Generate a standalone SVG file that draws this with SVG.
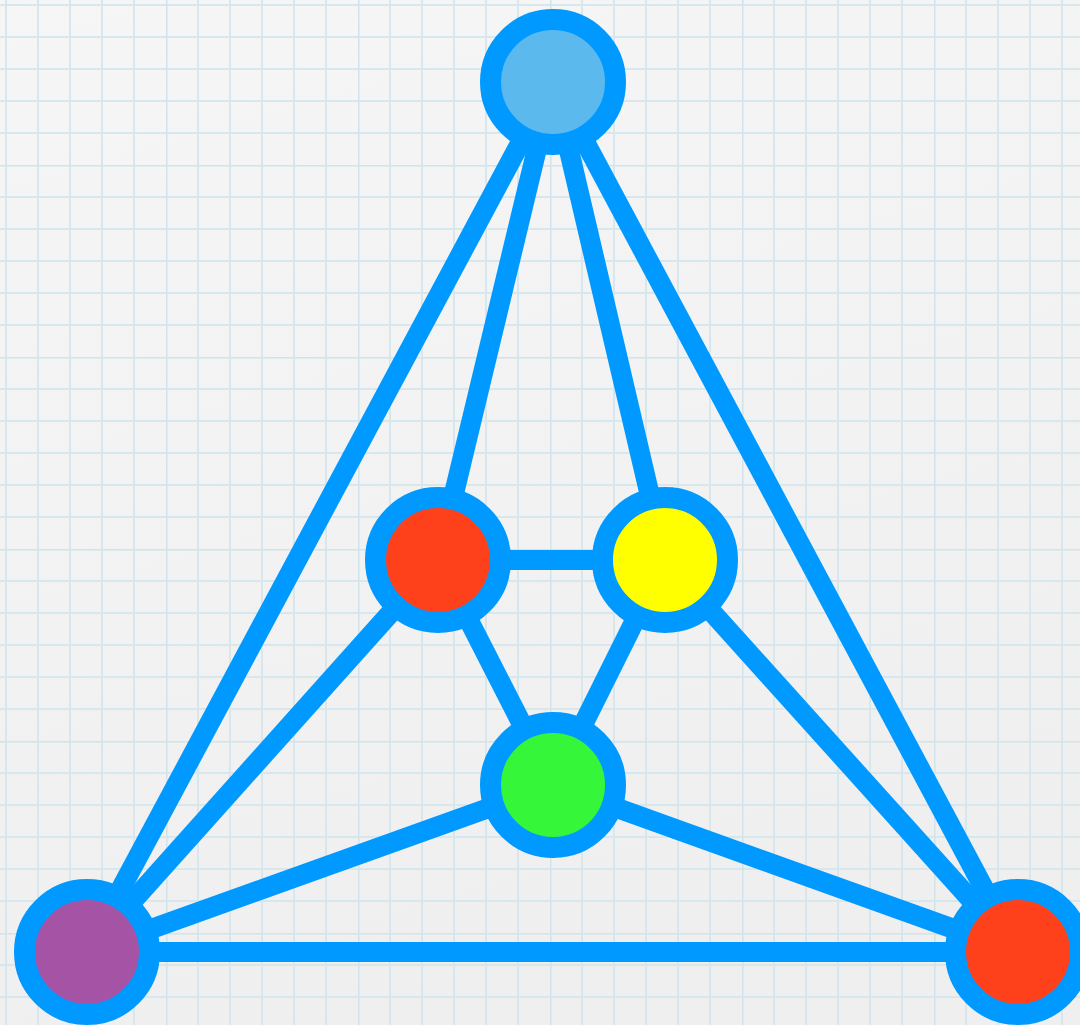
<svg xmlns="http://www.w3.org/2000/svg" width="1080" height="1025" viewBox="0 0 1080 1025">
<style>
.edge{stroke:#0099ff;stroke-width:20;fill:none}
.node{stroke:#0099ff;stroke-width:21}
</style>
<defs>
<linearGradient id="bg" x1="0" y1="0" x2="0.3" y2="1">
<stop offset="0" stop-color="#f6f6f6"/>
<stop offset="1" stop-color="#efefef"/>
</linearGradient>
<pattern id="grid" patternUnits="userSpaceOnUse" x="-26" y="-27" width="192" height="192">
<path d="M32 0V192M64 0V192M96 0V192M128 0V192M160 0V192M0 32H192M0 64H192M0 96H192M0 128H192M0 160H192" stroke="#d6e8ee" stroke-width="2" fill="none"/>
<path d="M0 0V192M0 0H192" stroke="#d0e4ec" stroke-width="3" fill="none"/>
</pattern>
</defs>
<rect width="1080" height="1025" fill="url(#bg)"/>
<rect width="1080" height="1025" fill="url(#grid)"/>
<g id="connectors">
<line class="edge" x1="553" y1="82" x2="87" y2="952"/>
<line class="edge" x1="553" y1="82" x2="438" y2="560"/>
<line class="edge" x1="553" y1="82" x2="665" y2="560"/>
<line class="edge" x1="553" y1="82" x2="1018" y2="952"/>
<line class="edge" x1="438" y1="560" x2="665" y2="560"/>
<line class="edge" x1="438" y1="560" x2="553" y2="785"/>
<line class="edge" x1="665" y1="560" x2="553" y2="785"/>
<line class="edge" x1="438" y1="560" x2="87" y2="952"/>
<line class="edge" x1="665" y1="560" x2="1018" y2="952"/>
<line class="edge" x1="553" y1="785" x2="87" y2="952"/>
<line class="edge" x1="553" y1="785" x2="1018" y2="952"/>
<line class="edge" x1="87" y1="952" x2="1018" y2="952"/>
</g>
<g id="node-top"><circle class="node" cx="553" cy="82" r="62.5" fill="#5bb9ee"/></g>
<g id="node-red-mid"><circle class="node" cx="438" cy="560" r="62.5" fill="#fe401b"/></g>
<g id="node-yellow"><circle class="node" cx="665" cy="560" r="62.5" fill="#ffff00"/></g>
<g id="node-green"><circle class="node" cx="553" cy="785" r="62.5" fill="#36f63a"/></g>
<g id="node-purple"><circle class="node" cx="87" cy="952" r="62.5" fill="#a553a5"/></g>
<g id="node-red-br"><circle class="node" cx="1018" cy="952" r="62.5" fill="#fe401b"/></g>
</svg>
